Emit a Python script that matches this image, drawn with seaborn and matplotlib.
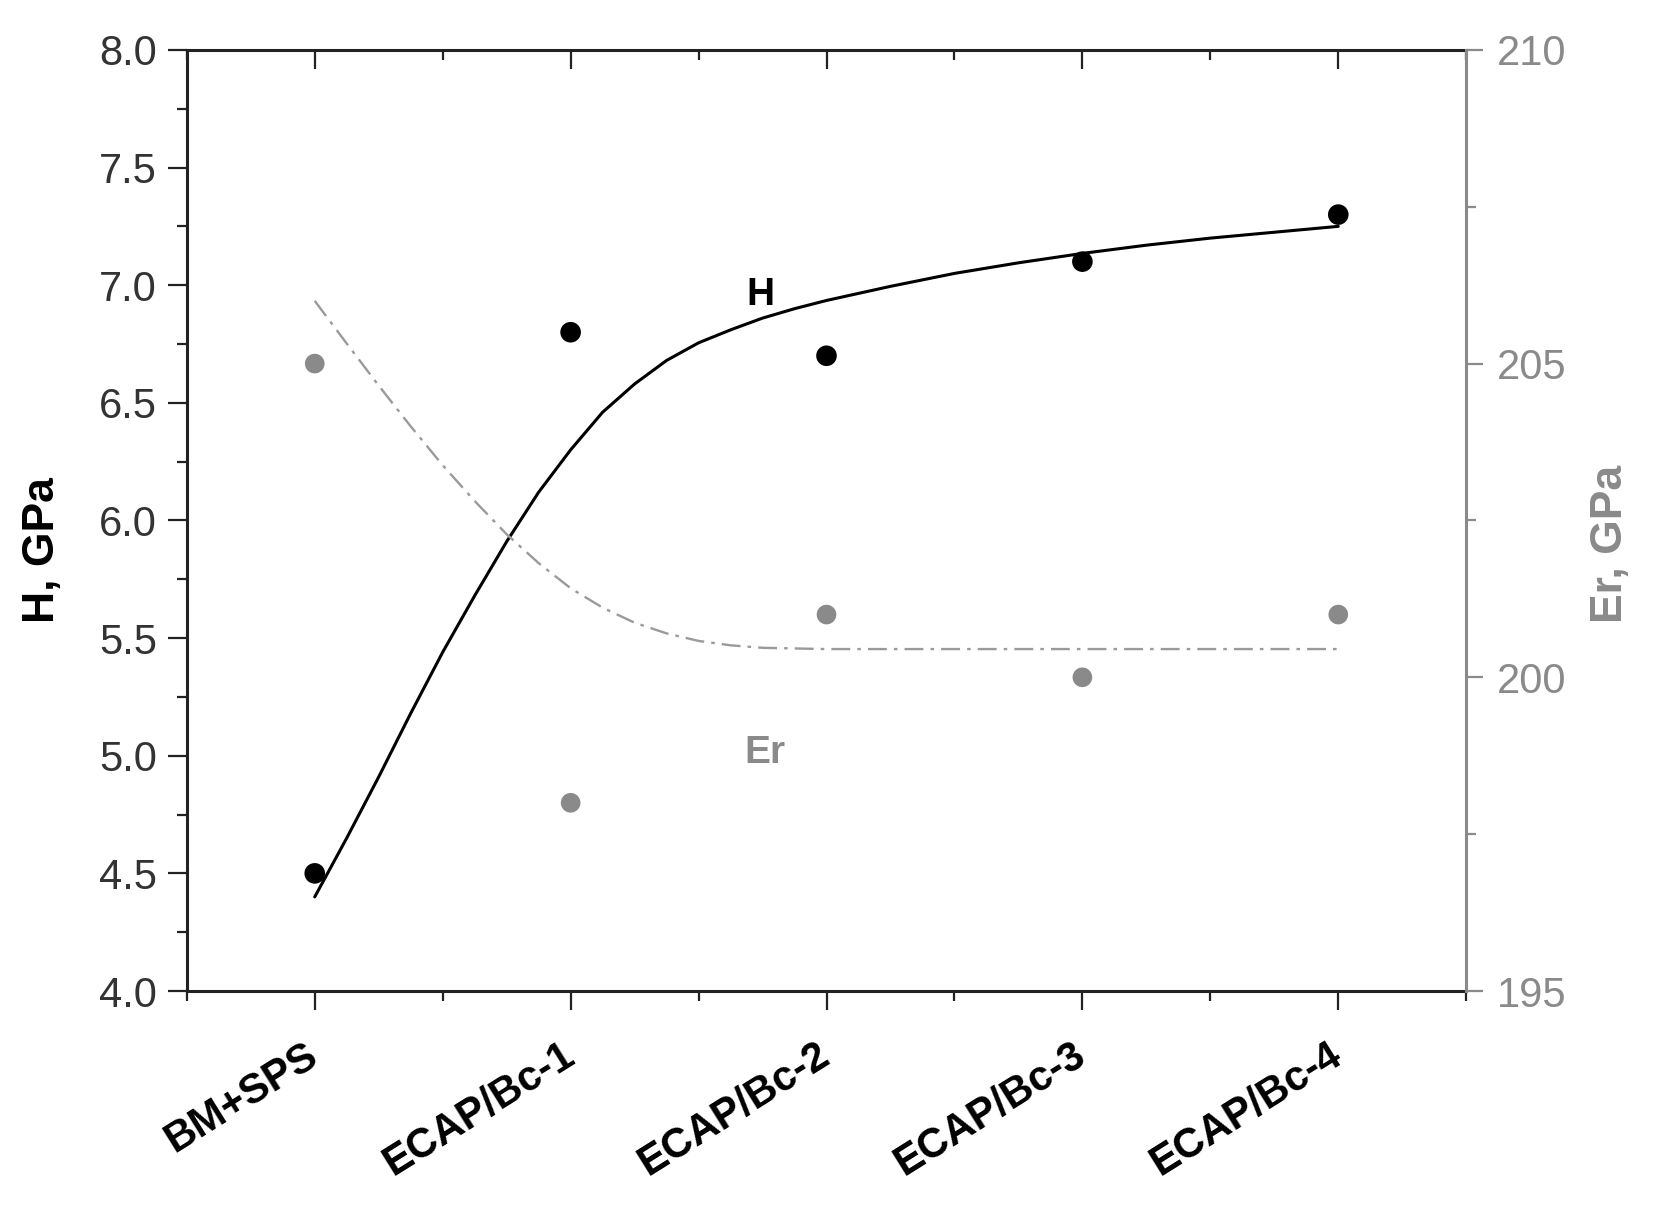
import matplotlib
matplotlib.use("Agg")
import matplotlib.pyplot as plt
import seaborn as sns
import pandas as pd
from matplotlib.ticker import MultipleLocator

# ---- data ----
categories = ["BM+SPS", "ECAP/Bc-1", "ECAP/Bc-2", "ECAP/Bc-3", "ECAP/Bc-4"]
h_values = [4.5, 6.8, 6.7, 7.1, 7.3]
er_values = [205.0, 198.0, 201.0, 200.0, 201.0]

# fitted curves
fit_x = [0.0, 0.125, 0.25, 0.375, 0.5, 0.625, 0.75, 0.875, 1.0, 1.125, 1.25, 1.375,
         1.5, 1.625, 1.75, 1.875, 2.0, 2.25, 2.5, 2.75, 3.0, 3.25, 3.5, 3.75, 4.0]
h_fit = [4.40, 4.65, 4.91, 5.18, 5.44, 5.68, 5.91, 6.12, 6.30, 6.46, 6.58, 6.68,
         6.755, 6.81, 6.86, 6.90, 6.935, 6.995, 7.05, 7.095, 7.135, 7.17, 7.20, 7.225, 7.25]
er_fit = [206.0, 205.32, 204.65, 204.0, 203.38, 202.81, 202.28, 201.82, 201.42, 201.11,
          200.87, 200.70, 200.58, 200.51, 200.47, 200.46, 200.45, 200.45, 200.45, 200.45,
          200.45, 200.45, 200.45, 200.45, 200.45]

sns.set_theme(style="ticks")
plt.rcParams['font.family'] = ['Liberation Sans', 'DejaVu Sans']

GREY = "#8a8a8a"
TXT = "#333333"

pts = pd.DataFrame({"x": list(range(len(categories))), "H": h_values, "Er": er_values})
fit = pd.DataFrame({"x": fit_x, "H": h_fit, "Er": er_fit})

fig = plt.figure(figsize=(16.53, 12.17), dpi=100)
ax = fig.add_axes([0.113, 0.1857, 0.774, 0.7733])
ax2 = ax.twinx()

sns.lineplot(data=fit, x="x", y="H", ax=ax, color="black", linewidth=2.2, sort=False)
sns.scatterplot(data=pts, x="x", y="H", ax=ax, color="black", s=220, edgecolor="none", zorder=5)

sns.lineplot(data=fit, x="x", y="Er", ax=ax2, color="#9a9a9a", linewidth=1.7, sort=False)
ax2.lines[-1].set_dashes([8, 3, 1.5, 3])
sns.scatterplot(data=pts, x="x", y="Er", ax=ax2, color=GREY, s=200, edgecolor="none", zorder=5)

ax.set_xlim(-0.5, 4.5)
ax.set_ylim(4.0, 8.0)
ax2.set_ylim(195, 210)

ax.set_xticks(range(len(categories)))
ax.set_xticklabels(categories, rotation=32, ha="right", va="center", rotation_mode="anchor",
                   fontsize=30, fontweight="bold", color="black")
ax.xaxis.set_minor_locator(MultipleLocator(0.5))
ax.yaxis.set_major_locator(MultipleLocator(0.5))
ax.yaxis.set_minor_locator(MultipleLocator(0.25))
ax.yaxis.set_major_formatter(matplotlib.ticker.FormatStrFormatter("%.1f"))
ax2.yaxis.set_major_locator(MultipleLocator(5))
ax2.yaxis.set_minor_locator(MultipleLocator(2.5))

ax.tick_params(axis="y", which="major", direction="out", length=13.5, width=1.6,
               labelsize=30, labelcolor=TXT, color="#222222", pad=8)
ax.tick_params(axis="y", which="minor", direction="out", length=7, width=1.6, color="#222222")
ax.tick_params(axis="x", which="major", direction="out", length=14, width=1.6,
               top=True, color="#222222", pad=30)
ax.tick_params(axis="x", which="minor", direction="out", length=7, width=1.6,
               top=True, color="#222222")
# top ticks pointing inward
for t in ax.xaxis.get_major_ticks():
    t.tick2line.set_marker(matplotlib.lines.TICKDOWN)
for t in ax.xaxis.get_minor_ticks():
    t.tick2line.set_marker(matplotlib.lines.TICKDOWN)

ax2.tick_params(axis="y", which="major", direction="out", length=12, width=1.6,
                labelsize=30, labelcolor=GREY, color=GREY, pad=10)
ax2.tick_params(axis="y", which="minor", direction="out", length=7, width=1.6, color=GREY)

for side in ["left", "bottom", "top"]:
    ax.spines[side].set_color("#222222")
    ax.spines[side].set_linewidth(2.2)
    ax.spines[side].set_visible(True)
    ax2.spines[side].set_visible(False)
ax.spines["right"].set_visible(False)
ax2.spines["right"].set_color(GREY)
ax2.spines["right"].set_linewidth(2.2)

ax.set_xlabel("")
ax.set_ylabel("H, GPa", fontsize=32, fontweight="bold", color="black")
ax2.set_ylabel("Er, GPa", fontsize=32, fontweight="bold", color=GREY)
ax.yaxis.set_label_coords(-0.097, 0.469)
ax2.yaxis.set_label_coords(1.097, 0.475)

ax.text(1.74, 6.96, "H", fontsize=28, fontweight="bold", color="black", ha="center", va="center")
ax2.text(1.76, 198.8, "Er", fontsize=28, fontweight="bold", color=GREY, ha="center", va="center")

fig.savefig("out.png", dpi=100)
